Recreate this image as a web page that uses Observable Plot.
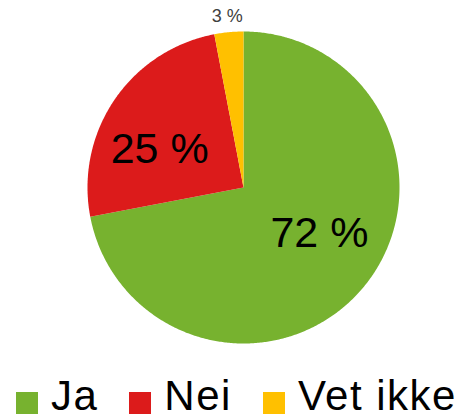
<!DOCTYPE html>
<html>
<head>
<meta charset="utf-8">
<script src="https://cdn.jsdelivr.net/npm/d3@7"></script>
<script src="https://cdn.jsdelivr.net/npm/@observablehq/plot@0.6"></script>
<style>
  html, body { margin: 0; padding: 0; background: #fff; }
  #wrap { position: relative; width: 461px; height: 420px; overflow: hidden; font-family: "Liberation Sans", Arial, sans-serif; }
  #chart { position: absolute; left: 0; top: 0; }
  #legend { position: absolute; left: 16px; top: 387px; font-size: 42px; line-height: 18px; white-space: nowrap; color: #000; }
  #legend .item { display: inline-block; margin-right: 31px; }
  #legend .txt { letter-spacing: 1.5px; }
  #legend .sw { display: inline-block; width: 22px; height: 22px; margin-right: 13px; vertical-align: -4px; }
</style>
</head>
<body>
<div id="wrap">
  <div id="chart"></div>
  <div id="legend"></div>
</div>
<script>
const categories = ["Ja", "Nei", "Vet ikke"];
const values = [72, 25, 3];
const valueLabels = ["72 %", "25 %", "3 %"];
const colors = ["#77b22f", "#dc1b1b", "#ffc000"];

const arcs = d3.pie().sort(null).value((d, i) => values[i])(categories);

const slices = [];
arcs.forEach((a, i) => {
  const cat = categories[i];
  slices.push({cat, x: 0, y: 0});
  const steps = Math.max(2, Math.ceil((a.endAngle - a.startAngle) / (Math.PI / 360)));
  for (let k = 0; k <= steps; k++) {
    const t = a.startAngle + (a.endAngle - a.startAngle) * k / steps;
    slices.push({cat, x: Math.sin(t), y: Math.cos(t)});
  }
  slices.push({cat, x: 0, y: 0});
});

const labels = arcs.map((a, i) => {
  const inside = values[i] >= 10;
  const mid = (a.startAngle + a.endAngle) / 2 + (inside ? -9 * Math.PI / 180 : 0);
  const r = inside ? 0.58 : 1.1;
  return {cat: categories[i], text: valueLabels[i], inside, x: r * Math.sin(mid), y: r * Math.cos(mid)};
});

const chart = Plot.plot({
  width: 461,
  height: 360,
  margin: 0,
  style: {background: "transparent", fontFamily: "Liberation Sans, Arial, sans-serif"},
  x: {domain: [-1, 1], range: [87, 399], axis: null},
  y: {domain: [-1, 1], range: [343, 31], axis: null},
  color: {domain: categories, range: colors},
  marks: [
    Plot.line(slices, {x: "x", y: "y", z: "cat", fill: "cat", stroke: "none", curve: "linear"}),
    Plot.text(labels.filter(d => d.inside), {x: "x", y: "y", text: "text", fontSize: 43, fill: "#000", textAnchor: "middle", lineAnchor: "middle", dx: -2}),
    Plot.text(labels.filter(d => !d.inside), {x: "x", y: "y", text: "text", fontSize: 18, fill: "#404040", textAnchor: "middle", lineAnchor: "middle"})
  ]
});
document.getElementById("chart").appendChild(chart);

const legend = document.getElementById("legend");
categories.forEach((c, i) => {
  const item = document.createElement("span");
  item.className = "item";
  const sw = document.createElement("span");
  sw.className = "sw";
  sw.style.background = colors[i];
  item.appendChild(sw);
  const txt = document.createElement("span");
  txt.className = "txt";
  txt.textContent = c;
  item.appendChild(txt);
  legend.appendChild(item);
});
</script>
</body>
</html>
